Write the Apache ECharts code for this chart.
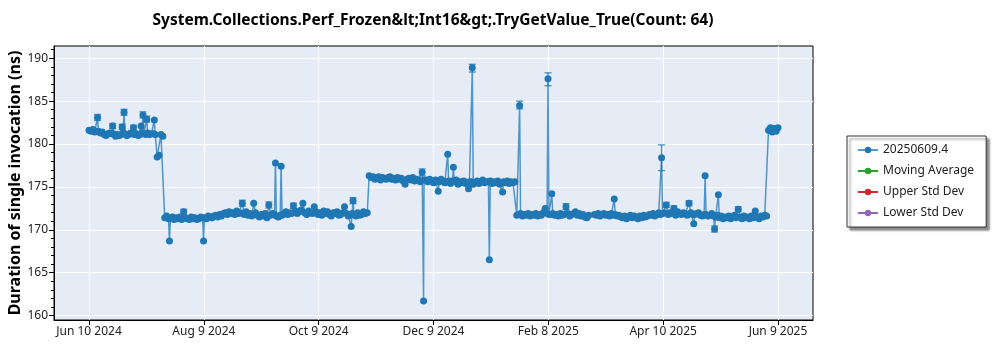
<!DOCTYPE html>
<html><head><meta charset="utf-8">
<script src="https://cdn.jsdelivr.net/npm/echarts@6/dist/echarts.min.js"></script>
<style>html,body{margin:0;padding:0;background:#fff}#c{width:1000px;height:350px}</style>
</head><body><div id="c"></div>
<script>
const titleText = 'System.Collections.Perf_Frozen&lt;Int16&gt;.TryGetValue_True(Count: 64)';
const yAxisTitle = 'Duration of single invocation (ns)';
const seriesNames = ['20250609.4', 'Moving Average', 'Upper Std Dev', 'Lower Std Dev'];
const seriesColors = ['#1f77b4', '#2ca02c', '#d62728', '#9467bd'];
const xTickLabels = ['Jun 10 2024', 'Aug 9 2024', 'Oct 9 2024', 'Dec 9 2024', 'Feb 8 2025', 'Apr 10 2025', 'Jun 9 2025'];
const xFirstTick = '2024-06-10';
const xLastTick = '2025-06-09';
const yTickValues = [160, 165, 170, 175, 180, 185, 190];
const yMinorTickValues = [160,161,162,163,164,165,166,167,168,169,170,171,172,173,174,175,176,177,178,179,180,181,182,183,184,185,186,187,188,189,190,191];

// daily runs of measured values (one value per day from the run's start date)
const run1Start = '2024-06-10';
const run1Values = [181.6,181.5,181.7,181.4,181.5,181.5,181.3,181.4,181.1,181.0,
  181.2,181.3,181.2,181.2,180.9,181.1,181.0,181.1,181.3,181.2,
  181.0,181.1,181.3,181.2,181.1,181.2,181.0,181.1,181.3,181.2,
  181.1,181.3,181.1,181.2,181.2,181.1,178.5,178.7,181.1,180.9];
const run2Start = '2024-07-20';
const run2Values = [171.4,171.6,171.3,171.3,171.5,171.2,171.4,171.3,171.5,171.2,
  172.1,171.4,171.3,171.2,171.5,171.3,171.4,171.2,171.3,171.5,
  171.4,171.4,171.3,171.6,171.5,171.4,171.6,171.7,171.5,171.8,
  171.6,171.9,172.0,171.8,172.1,171.9,172.0,171.8,172.2,171.9,
  172.0,173.1,171.8,172.1,171.7,171.9,171.6,173.1,172.0,171.7,
  171.5,171.8,171.6,171.9,171.4,172.9,171.7,171.9,171.8,171.6,
  171.5,171.7,171.7,171.9,172.1,171.8,172.0,171.9,172.8,172.2,
  171.9,172.1,172.3,173.1,172.0,171.8,172.2,172.0,171.9,172.7,
  172.1,171.8,172.0,171.7,172.2,171.9,172.1,171.8,171.6,172.0,
  171.9,172.1,171.7,171.8,172.0,172.7,171.9,171.6,171.8,171.9,
  171.8,171.6,172.0,171.7,171.8,172.1,171.9,172.0];
const run3Start = '2024-11-05';
const run3Values = [176.3,176.1,176.2,175.9,176.0,176.2,175.8,176.1,176.0,175.9,
  176.1,176.2,175.9,176.0,175.8,176.1,175.9,176.0,175.7,175.3,
  175.9,176.0,175.8,176.1,175.7,175.9,175.8,175.6,176.7,175.8,
  175.8,175.6,175.9,175.7,175.5,175.8,175.7,175.6,175.9,175.7,
  175.5,175.6,175.7,175.4,175.7,175.6,175.8,175.3,175.6,175.5,
  175.7,175.4,175.5,175.6,175.6,175.3,175.5,175.7,175.4,175.6,
  175.8,175.5,175.6,175.6,175.7,175.4,175.6,175.5,175.7,175.3,
  175.5,175.6,175.5,175.7,175.4,175.6,175.5,175.6];
const run4Start = '2025-01-22';
const run4Values = [171.7,171.8,171.9,171.6,171.8,171.7,171.9,171.6,171.8,171.7,
  171.9,171.6,171.8,171.7,172.0,172.5,171.9,171.8,171.8,171.9,
  171.7,171.8,171.6,171.9,171.7,171.8,172.7,171.9,171.6,171.8,
  171.9,172.1,171.7,171.9,171.6,171.8,171.5,171.4,171.7,null,
  null,171.8,171.7,171.9,171.6,171.8,171.9,171.7,171.8,171.6,
  171.9,171.7,171.8,171.6,171.7,171.5,171.4,171.6,171.3,171.5,
  171.7,171.4,171.6,171.5,171.3,171.6,171.4,171.7,171.5,171.6,
  171.8,171.7,171.9,171.6,171.8,172.0,171.8,171.9,172.0,172.9,
  171.8,172.0,171.9,172.5,171.7,172.1,171.9,171.8,172.0,171.9,
  171.7,173.1,172.0,171.8,171.8,171.9,172.0,171.7,171.6,171.8,
  171.8,171.6,171.7,171.9,171.6,171.5,171.7,171.4,171.6,171.3,
  171.5,171.4,171.6,171.3,171.5,171.7,171.4,172.4,171.5,171.3,
  171.6,171.4,171.5,171.3,171.6,171.4,172.2,171.5,171.3,171.6,
  171.5,171.7,171.6];
const run5Start = '2025-06-04';
const run5Values = [181.6,181.9,181.4,181.8,181.5,181.9];

// isolated outliers between the daily values
const spikeTimes = ['2024-06-14T12:00Z','2024-06-22T12:00Z','2024-06-27T12:00Z','2024-06-28T12:00Z','2024-07-03T12:00Z','2024-07-07T12:00Z','2024-07-08T12:00Z','2024-07-10T12:00Z','2024-07-14T12:00Z',
  '2024-07-22T12:00Z','2024-08-09T12:00Z','2024-09-16T12:00Z','2024-09-19T12:00Z','2024-10-26T12:00Z','2024-10-27T12:00Z',
  '2024-12-03T18:00Z','2024-12-11T12:00Z','2024-12-16T12:00Z','2024-12-19T12:00Z','2024-12-27T12:00Z','2024-12-29T12:00Z','2025-01-07T12:00Z','2025-01-14T12:00Z',
  '2025-01-23T12:00Z','2025-02-07T12:00Z','2025-02-09T12:00Z','2025-03-14T12:00Z','2025-04-08T12:00Z','2025-04-25T12:00Z','2025-05-01T12:00Z','2025-05-06T12:00Z','2025-05-08T12:00Z'];
const spikeValues = [183.1,182.1,182.0,183.7,181.9,182.1,183.4,182.9,182.8,
  168.7,168.7,177.8,177.4,170.4,173.4,
  161.7,174.5,178.8,177.3,174.8,188.9,166.5,174.4,
  184.5,187.6,174.2,173.6,178.4,170.7,176.3,170.1,174.1];

// error bars
const errDates = ['2024-06-14T12:00Z','2024-06-22T12:00Z','2024-06-27T12:00Z','2024-06-28T12:00Z','2024-07-03T12:00Z','2024-07-08T12:00Z','2024-07-10T12:00Z',
  '2024-07-30','2024-08-30','2024-09-13','2024-09-26','2024-10-27T12:00Z','2024-12-03','2024-12-29T12:00Z',
  '2025-01-23T12:00Z','2025-02-07T12:00Z','2025-02-17','2025-04-08T12:00Z','2025-04-11','2025-04-15','2025-04-23','2025-05-06T12:00Z','2025-05-19'];
const errLow = [182.75,181.8,181.7,183.35,181.6,183.05,182.55,171.8,172.75,172.55,172.5,173.05,176.3,188.4,
  184.1,186.8,172.35,176.9,172.6,172.2,172.8,169.75,172.1];
const errHigh = [183.45,182.4,182.3,184.05,182.2,183.75,183.25,172.4,173.45,173.25,173.1,173.75,177.1,189.3,
  185.0,188.3,173.05,179.9,173.2,172.8,173.4,170.45,172.7];

const DAY = 86400000;
const runs = [[run1Start, run1Values], [run2Start, run2Values], [run3Start, run3Values], [run4Start, run4Values], [run5Start, run5Values]];
const mainData = [];
runs.forEach(([s, vals]) => {
  const t0 = Date.parse(s);
  vals.forEach((v, i) => mainData.push([t0 + i * DAY, v === null ? '-' : v]));
});
spikeTimes.forEach((s, i) => mainData.push([Date.parse(s), spikeValues[i]]));
mainData.sort((a, b) => a[0] - b[0]);
const errData = errDates.map((d, i) => [Date.parse(d), errLow[i], errHigh[i]]);

const tFirst = Date.parse(xFirstTick), tLast = Date.parse(xLastTick);
const xTickValues = xTickLabels.map((_, i) => tFirst + i * (tLast - tFirst) / (xTickLabels.length - 1));
const xMin = tFirst - 18.5 * DAY, xMax = tLast + 18.5 * DAY;

const FONT = 'Noto Sans';
const chart = echarts.init(document.getElementById('c'), null, {renderer: 'canvas'});
chart.setOption({
  animation: false,
  backgroundColor: '#ffffff',
  title: {
    text: titleText, left: 428, top: 8, textAlign: 'center',
    textStyle: {fontFamily: FONT, fontSize: 15.5, fontWeight: 'bold', color: '#000'}
  },
  legend: {
    data: seriesNames, orient: 'vertical', left: 847, top: 136,
    padding: [7, 12, 7, 10], itemGap: 7, itemWidth: 20, itemHeight: 8,
    backgroundColor: '#fff', borderColor: '#333', borderWidth: 1,
    shadowColor: 'rgba(0,0,0,0.45)', shadowBlur: 2, shadowOffsetX: 3, shadowOffsetY: 3,
    textStyle: {fontFamily: FONT, fontSize: 12, color: '#222', lineHeight: 14}
  },
  grid: {left: 54, right: 187, top: 46, bottom: 30, outerBoundsMode: 'none', containLabel: false,
    show: true, backgroundColor: '#E5ECF6', borderColor: '#000', borderWidth: 1},
  xAxis: {
    type: 'value', min: xMin, max: xMax,
    axisLine: {show: true, lineStyle: {color: '#000'}},
    axisTick: {show: true, length: 5, customValues: xTickValues, lineStyle: {color: '#000'}},
    axisLabel: {customValues: xTickValues, fontFamily: FONT, fontSize: 12, color: '#222', margin: 6,
      formatter: (v) => { let best = 0; xTickValues.forEach((t, i) => { if (Math.abs(t - v) < Math.abs(xTickValues[best] - v)) best = i; }); return xTickLabels[best]; }},
    splitLine: {show: true, lineStyle: {color: '#fff', width: 1}}
  },
  yAxis: [{
    type: 'value', min: 159.49, max: 191.43,
    name: yAxisTitle, nameLocation: 'middle', nameGap: 31, nameMoveOverlap: false,
    nameTextStyle: {fontFamily: FONT, fontSize: 16, fontWeight: 'bold', color: '#000'},
    axisLine: {show: true, lineStyle: {color: '#000'}},
    axisTick: {show: true, length: 5, customValues: yTickValues, lineStyle: {color: '#000'}},
    axisLabel: {customValues: yTickValues, fontFamily: FONT, fontSize: 12, color: '#222', margin: 6},
    splitLine: {show: true, lineStyle: {color: '#fff', width: 1}}
  }, {
    type: 'value', min: 159.49, max: 191.43, position: 'left',
    axisLine: {show: false},
    axisTick: {show: true, length: 3, customValues: yMinorTickValues, lineStyle: {color: '#000'}},
    axisLabel: {show: false},
    splitLine: {show: false}
  }],
  series: [
    {
      name: seriesNames[0], type: 'line', data: mainData, yAxisIndex: 0,
      symbol: 'circle', symbolSize: 7, showAllSymbol: true, connectNulls: false,
      itemStyle: {color: seriesColors[0]},
      lineStyle: {color: seriesColors[0], width: 1.5, opacity: 0.75},
      z: 3
    },
    {
      type: 'custom', data: errData, yAxisIndex: 0, z: 2,
      renderItem: (params, api) => {
        const x = api.value(0), lo = api.value(1), hi = api.value(2);
        const a = api.coord([x, hi]), b = api.coord([x, lo]);
        const w = 3.5;
        const st = {stroke: seriesColors[0], lineWidth: 1.3, opacity: 0.8};
        return {type: 'group', children: [
          {type: 'line', shape: {x1: a[0], y1: a[1], x2: b[0], y2: b[1]}, style: st},
          {type: 'line', shape: {x1: a[0] - w, y1: a[1], x2: a[0] + w, y2: a[1]}, style: st},
          {type: 'line', shape: {x1: b[0] - w, y1: b[1], x2: b[0] + w, y2: b[1]}, style: st}
        ]};
      }
    },
    {name: seriesNames[1], type: 'line', data: [], symbol: 'circle', symbolSize: 6, itemStyle: {color: seriesColors[1]}, lineStyle: {color: seriesColors[1]}},
    {name: seriesNames[2], type: 'line', data: [], symbol: 'circle', symbolSize: 6, itemStyle: {color: seriesColors[2]}, lineStyle: {color: seriesColors[2]}},
    {name: seriesNames[3], type: 'line', data: [], symbol: 'circle', symbolSize: 6, itemStyle: {color: seriesColors[3]}, lineStyle: {color: seriesColors[3]}}
  ]
});
</script></body></html>
